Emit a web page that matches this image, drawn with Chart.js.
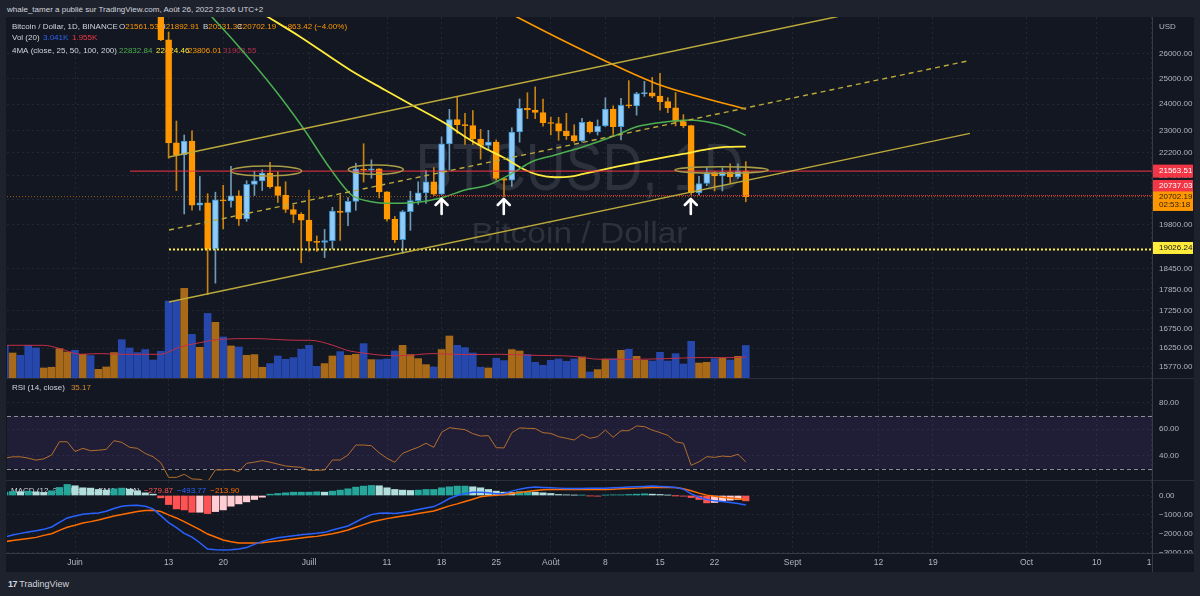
<!DOCTYPE html>
<html lang="fr">
<head>
<meta charset="utf-8">
<title>BTCUSD 1D</title>
<script src="https://cdn.jsdelivr.net/npm/chart.js@4.4.1/dist/chart.umd.min.js"></script>
<style>
  html, body { margin:0; padding:0; width:1200px; height:596px; overflow:hidden; background:#1e222d; }
  body { position:relative; font-family:'Liberation Sans', Arial, sans-serif; }
  #frame { position:absolute; left:6px; top:17px; width:1188px; height:555px; background:#131722; }
  canvas { position:absolute; left:0; }
  .sep { position:absolute; background:#2a2e39; }
  #hdr { position:absolute; left:7px; top:4px; font-size:8px; line-height:11px; color:#d1d4dc; white-space:nowrap; }
  #foot { position:absolute; left:8px; top:578px; font-size:9px; line-height:12px; color:#d1d4dc; white-space:nowrap; }
</style>
</head>
<body>
<div id="frame"></div>
<div id="hdr">whale_tamer a publié sur TradingView.com, Août 26, 2022 23:06 UTC+2</div>
<canvas id="cPrice" width="1200" height="361" style="top:17px"></canvas>
<canvas id="cRsi" width="1200" height="101" style="top:379px"></canvas>
<canvas id="cMacd" width="1200" height="91" style="top:481px"></canvas>
<div class="sep" style="left:6px;top:378px;width:1188px;height:1px"></div>
<div class="sep" style="left:6px;top:480px;width:1188px;height:1px"></div>
<div class="sep" style="left:6px;top:553px;width:1188px;height:1px;background:#363a45"></div>
<div class="sep" style="left:1152px;top:17px;width:1px;height:555px;background:#363a45"></div>
<div id="foot"><b style="letter-spacing:-0.5px">17</b> TradingView</div>
<script>
// ---------------- DATA ----------------
const dates = [
 '2022-05-23','2022-05-24','2022-05-25','2022-05-26','2022-05-27','2022-05-28','2022-05-29','2022-05-30','2022-05-31',
 '2022-06-01','2022-06-02','2022-06-03','2022-06-04','2022-06-05','2022-06-06','2022-06-07','2022-06-08','2022-06-09','2022-06-10',
 '2022-06-11','2022-06-12','2022-06-13','2022-06-14','2022-06-15','2022-06-16','2022-06-17','2022-06-18','2022-06-19','2022-06-20',
 '2022-06-21','2022-06-22','2022-06-23','2022-06-24','2022-06-25','2022-06-26','2022-06-27','2022-06-28','2022-06-29','2022-06-30',
 '2022-07-01','2022-07-02','2022-07-03','2022-07-04','2022-07-05','2022-07-06','2022-07-07','2022-07-08','2022-07-09','2022-07-10',
 '2022-07-11','2022-07-12','2022-07-13','2022-07-14','2022-07-15','2022-07-16','2022-07-17','2022-07-18','2022-07-19','2022-07-20',
 '2022-07-21','2022-07-22','2022-07-23','2022-07-24','2022-07-25','2022-07-26','2022-07-27','2022-07-28','2022-07-29','2022-07-30','2022-07-31',
 '2022-08-01','2022-08-02','2022-08-03','2022-08-04','2022-08-05','2022-08-06','2022-08-07','2022-08-08','2022-08-09','2022-08-10',
 '2022-08-11','2022-08-12','2022-08-13','2022-08-14','2022-08-15','2022-08-16','2022-08-17','2022-08-18','2022-08-19','2022-08-20',
 '2022-08-21','2022-08-22','2022-08-23','2022-08-24','2022-08-25','2022-08-26'
];
const open = [
 30290,29101,29655,29542,29201,28629,29031,29469,31734,
 31801,29799,30468,29705,29832,29907,31371,31125,30204,30110,
 29091,28424,26600,22560,22130,22627,20420,20500,19050,20600,
 20560,20730,19980,21111,21230,21492,21038,20742,20281,20123,
 19942,19279,19243,19297,20231,20190,20548,21637,21600,21640,
 20861,19971,19329,20212,20570,20825,21198,20785,22525,23410,
 23223,23190,22700,22470,22590,21311,21251,22953,23843,23774,23680,
 23300,23268,22988,22819,22626,23313,22954,23175,23810,23149,
 23954,23934,24403,24441,24305,24094,23854,23342,23191,20834,
 21140,21516,21400,21528,21368,21561.53
];
const high = [
 30670,29833,30223,29865,29397,29250,29530,32222,32399,
 31982,30690,30675,29956,30169,31765,31557,31329,30700,30383,
 29440,28544,26930,23360,22845,23000,21380,20800,20850,21080,
 21730,20900,21233,21560,21614,21870,21540,21200,20432,20179,
 20918,19443,19647,20354,20750,20675,21838,22527,21955,21650,
 20868,20059,20250,20880,21200,21589,21684,22777,23800,24280,
 23650,23757,23050,23014,22666,21350,23112,24199,24442,24668,24194,
 23510,23500,23648,23222,23464,23354,23400,24245,23933,24226,
 24918,24456,24888,25047,25211,24247,24446,23600,23202,21382,
 21692,21560,21684,21819,21819,21892.91
];
const low = [
 28866,28669,29294,28019,28282,28450,28815,29299,31200,
 29301,29594,29282,29485,29519,29882,29219,29843,29944,28850,
 28100,26560,22010,20900,20138,20260,20260,17700,18030,19660,
 20360,19770,19900,20740,20907,20980,20510,20183,19855,18626,
 18975,18969,18781,19039,19305,19761,20257,21189,21320,20660,
 19908,19240,18910,19617,20450,20478,20740,20763,21600,22906,
 22500,22500,21980,22300,21250,20706,21042,22582,23450,23450,23170,
 22850,22655,22681,22580,22586,22910,22844,23155,22865,22664,
 23853,23580,24298,24249,23773,23671,23180,23108,20761,20761,
 21069,20890,20890,21152,21310,20531.33
];
const close = [
 29101,29655,29542,29201,28629,29031,29469,31734,31801,
 29799,30467,29705,29832,29906,31371,31125,30204,30110,29091,
 28424,26600,22560,22130,22627,20420,20500,19050,20600,20560,
 20730,19980,21111,21230,21492,21038,20742,20281,20123,19942,
 19279,19243,19297,20231,20190,20548,21637,21600,21640,20861,
 19971,19329,20212,20570,20825,21198,20785,22525,23410,23223,
 23190,22700,22470,22590,21311,21251,22953,23843,23774,23680,23300,
 23268,22988,22819,22626,23313,22954,23175,23810,23149,23954,
 23934,24403,24441,24305,24094,23854,23342,23191,20834,21140,
 21516,21400,21528,21368,21565.61,20702.19
];
const volume = [
 3060,2340,2125,3060,2810,936,1000,2750,2430,
 2590,2220,2100,814,1030,2380,3590,2810,2380,2660,
 1685,2500,7200,7200,8400,4090,2870,6050,5210,3840,
 3000,2900,2125,2190,1000,1350,2060,1750,1910,2690,
 3060,1095,1350,2060,2470,2125,2220,3220,1720,1720,
 1780,2530,3060,2190,1815,1250,1030,2660,3930,3060,
 2845,2340,1000,936,1845,1630,2660,2530,2190,1470,1190,
 1660,1780,1560,1780,1970,560,786,1780,1815,2590,
 2690,2030,1660,1590,2405,1590,2280,1310,3435,1400,
 1470,1815,1845,1685,2030,3041
];
const rsi = [
 38,39,39,38,36.5,37.5,40.4,50.4,50.4,
 43,45.4,43.6,44,44.6,51.2,49.9,46.2,45.4,41.6,
 39.1,34.6,23.5,23.5,25.8,22.3,22,20.2,29.1,29.1,
 29.5,27.8,34.1,35,36.1,35,33.5,32.1,31.5,31.1,
 28.8,28.8,29.1,36.6,36.6,40.4,47.9,47.9,47.4,42,
 37.9,34.9,41.6,44,46.2,49.2,46.2,57.5,61,60.2,
 59.5,56.5,54.7,55,45.9,45.7,57.2,60.8,60.5,60.3,57.2,
 56.7,54.2,53,51.7,56,53,54.2,59.2,53.7,58.7,
 58.7,62.3,61.8,59.2,57.3,55.2,50.4,49.2,32.6,35.3,
 39.1,38.6,39.6,39.1,40.9,35.17
];
const macd = [
 -2175,-2070,-1982,-1912,-1842,-1772,-1649,-1403,-1175,
 -1070,-982,-947,-912,-824,-684,-561,-526,-509,-561,
 -702,-1052,-1421,-1684,-1982,-2175,-2473,-2806,-2841,-2859,
 -2841,-2806,-2718,-2560,-2403,-2298,-2210,-2157,-2105,-2052,
 -2017,-1982,-1929,-1807,-1701,-1596,-1386,-1175,-1000,-930,
 -912,-947,-895,-824,-737,-649,-579,-386,-158,0,
 105,175,175,140,90,110,228,333,403,439,421,
 403,386,368,368,368,386,386,386,403,421,
 439,456,474,491,474,456,421,333,88,-88,
 -210,-281,-316,-368,-421,-493.77
];
const signal = [
 -2421,-2350,-2298,-2245,-2192,-2087,-2000,-1824,-1666,
 -1561,-1438,-1368,-1280,-1175,-1070,-1000,-912,-842,-789,
 -772,-842,-1017,-1175,-1368,-1579,-1789,-2017,-2175,-2333,
 -2421,-2491,-2491,-2491,-2473,-2421,-2385,-2333,-2280,-2228,
 -2175,-2140,-2070,-2000,-1912,-1807,-1666,-1526,-1386,-1298,
 -1210,-1140,-1070,-1017,-947,-877,-807,-684,-544,-438,
 -316,-193,-70,-18,18,53,105,158,210,263,298,
 316,316,316,316,316,316,316,316,333,351,
 368,386,403,421,421,421,421,351,246,123,
 20,-40,-90,-130,-170,-213.90
];
const hist = [
 175,210,193,228,193,158,246,421,579,
 509,403,386,316,281,351,386,333,246,140,
 70,-123,-474,-702,-754,-877,-877,-947,-842,-754,
 -561,-439,-333,-210,-88,70,105,140,175,175,
 175,193,175,228,281,351,439,491,526,509,
 403,316,281,263,281,316,316,403,456,491,
 491,456,403,316,228,175,158,210,210,175,140,
 105,53,35,18,18,-18,-35,18,35,35,
 53,70,88,70,53,18,-5,-35,-105,-210,
 -386,-368,-298,-246,-210,-279.87
];
// moving averages (x = days since 1 June 2022)
const ma25X = [15.5,17.56,20.26,25.64,29.27,32.69,35.47,38.04,40.6,44.45,47.44,50.0,52.99,56.41,58.55,61.54,65.17,69.45,72.01,75.86,78.85,80.99,83.55,86];
const ma25Y = [28400,27583,26588,24547,23091,21661,20757,20536,20483,20536,20701,20923,21090,21544,21890,22126,22421,22844,23149,23335,23398,23335,23149,22832.84];
const ma50X = [23.0,24.74,28.85,35.26,39.74,43.59,47.44,50.0,52.56,55.13,57.27,59.4,61.54,63.46,65.17,69.45,73.72,77.99,80.99,83.55,86];
const ma50Y = [27950,27583,26729,25344,24547,23901,23276,22783,22364,22010,21661,21433,21354,21374,21466,21716,21949,22162,22328,22414,22424.46];
const ma100X = [54.49,56.67,62.18,67.73,75.0,79.71,86];
const ma100Y = [27983,27583,26631,25752,24744,24313,23806.01];
const ma200Last = 31903.55;
const volMaX = [-8.76,-4.06,-1.92,0.64,3.2,5.77,10.9,13.46,16.03,18.59,22.82,28.85,30.13,33.08,34.87,36.92,39.49,41.67,45.9,50.26,54.49,58.72,63.85,67.31,71.54,75.9,80.13,84.36,86];
const volMaY = [3060,3060,2750,2220,2285,2220,2220,2900,3310,3620,3690,3530,3530,3060,2590,2340,2125,2080,2285,2190,2220,2125,2030,1750,1750,1815,1910,1910,1955];
// user drawings (x = days since 1 June 2022, y = price)
const channelUpperX = [12.05, 97.8],  channelUpperY = [22055, 27605];
const channelLowerX = [12.05, 114.74], channelLowerY = [17495, 22903];
const channelMidX   = [12.05, 114.74], channelMidY   = [19628, 25731];
const levelRed = 21563.51, levelRedStart = 7.05;
const levelRed2 = 20737.03, levelRed2Start = 45.9;
const levelYellow = 19026.24, levelYellowStart = 12.05;
const ellipses = [[19.99,29.06,21400,21741],[35.04,42.09,21456,21776],[76.92,88.88,21490,21716]];
const arrowDays = [47, 54.97, 78.95], arrowTip = 20625, arrowTail = 20138;
const countdown = '02:53:18';
// axes
const priceTicks = [26000,25000,24000,23000,22200,21400,20600,19800,18450,17850,17250,16750,16250,15770];
const rsiTicks = [80,60,40];
const macdTicks = [0,-1000,-2000,-3000];
const timeTickDates = ['2022-06-01','2022-06-13','2022-06-20','2022-07-01','2022-07-11','2022-07-18','2022-07-25','2022-08-01','2022-08-08','2022-08-15','2022-08-22','2022-09-01','2022-09-12','2022-09-19','2022-10-01','2022-10-10','2022-10-17'];
const timeTickLabels = ['Juin','13','20','Juill','11','18','25','Août','8','15','22','Sept','12','19','Oct','10','17'];

// ---------------- HELPERS ----------------
const FONT = "'Liberation Sans', Arial, sans-serif";
const D0 = Date.UTC(2022,5,1);
const dayOf = s => { const p = s.split('-').map(Number); return Math.round((Date.UTC(p[0],p[1]-1,p[2]) - D0) / 864e5); };
const xs = dates.map(dayOf);
const tickDays = timeTickDates.map(dayOf);
const xMin = -8.72, xMax = 138.08;
const n = close.length;
const isBull = k => close[k] >= open[k];
const GRID = '#232733';
const AXT = '#b2b5be';
const TXT = '#d1d4dc';
const TREND = '#bcaa3a';
const minus = s => s.replace('-', '\u2212');

Chart.defaults.font.family = FONT;
Chart.defaults.animation = false;

const noPad = s => { s.paddingTop = 0; s.paddingBottom = 0; s.paddingLeft = 0; s.paddingRight = 0; };
function xAxis(showLabels) {
  return {
    type:'linear', min:xMin, max:xMax, offset:false,
    grid:{ color:GRID, drawTicks:false, offset:false },
    border:{ display:false, dash:[2,3] },
    ticks:{ display:showLabels, autoSkip:false, maxRotation:0, color:AXT, font:{size:8.5}, padding:5,
            callback:(v,i)=> timeTickLabels[i] },
    afterBuildTicks: s => { s.ticks = tickDays.map(v => ({value:v})); },
    afterFit: s => { s.height = showLabels ? 19 : 0; noPad(s); }
  };
}
function yAxis(type, min, max, ticks, fmt) {
  return { type, position:'right', min, max,
    grid:{ color:GRID, drawTicks:false }, border:{ display:false, dash:[2,3] },
    ticks:{ autoSkip:false, color:AXT, font:{size:8}, padding:7, callback:v => fmt(Number(v)) },
    afterBuildTicks: s => { s.ticks = ticks.map(v => ({value:v})); },
    afterFit: s => { s.width = 48; noPad(s); } };
}
function lineDs(xArr, yArr, color, width, extra) {
  return Object.assign({ type:'line', data:xArr.map((x,k)=>({x, y:yArr[k]})), borderColor:color, borderWidth:width,
    pointRadius:0, fill:false, tension:0 }, extra || {});
}
function txt(ctx, s, x, y, color, size, align) {
  ctx.font = `${size||8}px ${FONT}`; ctx.fillStyle = color; ctx.textAlign = align || 'left'; ctx.textBaseline = 'middle';
  ctx.fillText(s, x, y); return x + ctx.measureText(s).width;
}
function stretched(ctx, s, cx, base, size, width, color) {
  ctx.font = `${size}px ${FONT}`;
  const w = ctx.measureText(s).width;
  ctx.save(); ctx.translate(cx, base); ctx.scale(width / w, 1);
  ctx.fillStyle = color; ctx.textAlign = 'center'; ctx.textBaseline = 'alphabetic'; ctx.fillText(s, 0, 0); ctx.restore();
}
function tag(ctx, y0, h, bg, lines) {
  ctx.fillStyle = bg; ctx.fillRect(1153, y0, 40, h);
  lines.forEach(([s, yy, c]) => txt(ctx, s, 1159, yy, c, 8));
}
const baseOptions = () => ({
  responsive:false, devicePixelRatio:1, animation:false, events:[],
  layout:{ padding:{ left:7, right:0, top:0, bottom:0 }, autoPadding:false },
  plugins:{ legend:{display:false}, tooltip:{enabled:false} }
});

// ---------------- PRICE PANE ----------------
const pricePlugin = {
  id:'priceDecor',
  beforeDatasetsDraw(chart) {
    const ctx = chart.ctx, a = chart.chartArea, cx = (a.left + a.right) / 2;
    ctx.save();
    stretched(ctx, 'BTCUSD, 1D', cx, 173, 66, 328, '#2d313c');
    stretched(ctx, 'Bitcoin / Dollar', cx, 226, 30, 216, '#2d313c');
    const L = n - 1, ORG = '#ff9800';
    txt(ctx, 'Bitcoin / Dollar, 1D, BINANCE', 12, 9.5, TXT);
    let x = txt(ctx, 'O', 119, 9.5, TXT); txt(ctx, open[L].toFixed(2), x, 9.5, ORG);
    x = txt(ctx, 'H', 160, 9.5, TXT); txt(ctx, high[L].toFixed(2), x, 9.5, ORG);
    x = txt(ctx, 'B', 203, 9.5, TXT); txt(ctx, low[L].toFixed(2), x, 9.5, ORG);
    x = txt(ctx, 'C', 237, 9.5, TXT); txt(ctx, close[L].toFixed(2), x, 9.5, ORG);
    const chg = close[L] - close[L-1], pct = chg / close[L-1] * 100;
    txt(ctx, minus(chg.toFixed(2)) + ' (' + minus(pct.toFixed(2)) + '%)', 283, 9.5, ORG);
    txt(ctx, 'Vol (20)', 12, 21, TXT);
    txt(ctx, (volume[L]/1000).toFixed(3) + 'K', 43, 21, '#2f63f5');
    txt(ctx, (volMaY[volMaY.length-1]/1000).toFixed(3) + 'K', 72, 21, '#f23645');
    txt(ctx, '4MA (close, 25, 50, 100, 200)', 12, 33.3, TXT);
    txt(ctx, ma25Y[ma25Y.length-1].toFixed(2), 119, 33.3, '#4caf50');
    txt(ctx, ma50Y[ma50Y.length-1].toFixed(2), 156, 33.3, '#ffeb3b');
    txt(ctx, ma100Y[ma100Y.length-1].toFixed(2), 188, 33.3, '#ff9800');
    txt(ctx, ma200Last.toFixed(2), 223, 33.3, '#b5304a');
    ctx.restore();
  },
  afterDatasetsDraw(chart) {
    const ctx = chart.ctx, X = chart.scales.x, Y = chart.scales.y, a = chart.chartArea;
    ctx.save();
    ctx.beginPath(); ctx.rect(a.left, a.top, a.right - a.left, a.bottom - a.top); ctx.clip();
    ctx.strokeStyle = '#aa9d47'; ctx.lineWidth = 1.5;
    ellipses.forEach(([d0, d1, p0, p1]) => {
      const x0 = X.getPixelForValue(d0), x1 = X.getPixelForValue(d1);
      const y0 = Y.getPixelForValue(p0), y1 = Y.getPixelForValue(p1);
      ctx.beginPath(); ctx.ellipse((x0+x1)/2, (y0+y1)/2, Math.abs(x1-x0)/2, Math.abs(y1-y0)/2, 0, 0, Math.PI*2); ctx.stroke();
    });
    ctx.strokeStyle = '#ffffff'; ctx.lineWidth = 2.6; ctx.lineCap = 'round'; ctx.lineJoin = 'round';
    arrowDays.forEach(d => {
      const x = X.getPixelForValue(d), yt = Y.getPixelForValue(arrowTip), yb = Y.getPixelForValue(arrowTail);
      ctx.beginPath(); ctx.moveTo(x, yb); ctx.lineTo(x, yt + 1); ctx.stroke();
      ctx.beginPath(); ctx.moveTo(x - 6, yt + 6); ctx.lineTo(x, yt); ctx.lineTo(x + 6, yt + 6); ctx.stroke();
    });
    ctx.restore();
  },
  afterDraw(chart) {
    const ctx = chart.ctx, Y = chart.scales.y;
    ctx.save();
    txt(ctx, 'USD', 1159, 10, AXT, 8);
    const yR = Y.getPixelForValue(levelRed);
    tag(ctx, yR - 6.5, 13, '#f23645', [[levelRed.toFixed(2), yR, '#ffffff']]);
    const yR2 = Y.getPixelForValue(levelRed2) - 9.6;
    tag(ctx, yR2 - 6, 12, '#f23645', [[levelRed2.toFixed(2), yR2, '#ffffff']]);
    const yL = Y.getPixelForValue(close[n-1]);
    tag(ctx, yL - 5.2, 19.5, '#ff9800', [[close[n-1].toFixed(2), yL, '#2a1c05'], [countdown, yL + 8.3, '#2a1c05']]);
    const yY = Y.getPixelForValue(levelYellow) - 1.5;
    tag(ctx, yY - 6, 12, '#ffeb3b', [[levelYellow.toFixed(2), yY, '#131722']]);
    ctx.restore();
  }
};

new Chart(document.getElementById('cPrice'), {
  type:'bar',
  data:{ datasets:[
    lineDs(channelUpperX, channelUpperY, TREND, 1.4, {order:1}),
    lineDs(channelLowerX, channelLowerY, TREND, 1.4, {order:1}),
    lineDs(channelMidX, channelMidY, TREND, 1.4, {order:1, borderDash:[5,4]}),
    lineDs([levelRedStart, xMax], [levelRed, levelRed], '#f23645', 1, {order:1}),
    lineDs([levelRed2Start, xMax], [levelRed2, levelRed2], '#f23645', 1, {order:1, borderDash:[1,1]}),
    lineDs([xMin, xMax], [close[n-1], close[n-1]], 'rgba(255,152,0,0.55)', 1, {order:1, borderDash:[1,2]}),
    lineDs([levelYellowStart, xMax], [levelYellow, levelYellow], '#ffeb3b', 2, {order:1, borderDash:[2,2]}),
    lineDs(ma25X, ma25Y, '#4caf50', 1.5, {order:2, cubicInterpolationMode:'monotone'}),
    lineDs(ma50X, ma50Y, '#ffeb3b', 1.8, {order:2, cubicInterpolationMode:'monotone'}),
    lineDs(ma100X, ma100Y, '#ff9800', 1.6, {order:2, cubicInterpolationMode:'monotone'}),
    { type:'bar', data:xs.map((x,k)=>({x, y:[open[k], close[k]]})), grouped:false, barThickness:6, minBarLength:1,
      backgroundColor:c => isBull(c.dataIndex) ? '#90caf9' : '#ff9800',
      borderColor:c => isBull(c.dataIndex) ? '#3b95cc' : '#ff9800', borderWidth:1, borderSkipped:false, order:4 },
    { type:'bar', data:xs.map((x,k)=>({x, y:[low[k], high[k]]})), grouped:false, barThickness:1,
      backgroundColor:c => isBull(c.dataIndex) ? '#6e9ab4' : '#c8820f', order:5 },
    lineDs(volMaX, volMaY, '#c22f48', 1, {yAxisID:'yVol', order:8, cubicInterpolationMode:'monotone'}),
    { type:'bar', yAxisID:'yVol', data:xs.map((x,k)=>({x, y:volume[k]})), grouped:false, barThickness:7,
      backgroundColor:c => isBull(c.dataIndex) ? '#a86a18' : '#2647ab', order:9 }
  ]},
  options:Object.assign(baseOptions(), {
    scales:{
      x: xAxis(false),
      y: yAxis('logarithmic', 15495, 27583, priceTicks, v => v.toFixed(2)),
      yVol: { type:'linear', display:false, min:0, max:33790 }
    }
  }),
  plugins:[pricePlugin]
});

// ---------------- RSI PANE ----------------
const rsiPlugin = {
  id:'rsiDecor',
  beforeDatasetsDraw(chart) {
    const ctx = chart.ctx, a = chart.chartArea, Y = chart.scales.y;
    const y70 = Y.getPixelForValue(70), y30 = Y.getPixelForValue(30);
    ctx.save();
    ctx.fillStyle = 'rgba(126,80,200,0.13)';
    ctx.fillRect(a.left, y70, a.right - a.left, y30 - y70);
    ctx.strokeStyle = '#8a8d96'; ctx.lineWidth = 1; ctx.setLineDash([4,3]);
    [y70, y30].forEach(y => { ctx.beginPath(); ctx.moveTo(a.left, Math.round(y)+0.5); ctx.lineTo(a.right, Math.round(y)+0.5); ctx.stroke(); });
    ctx.setLineDash([]);
    const x = txt(ctx, 'RSI (14, close)', 12, 8.5, TXT);
    txt(ctx, rsi[n-1].toFixed(2), x + 6, 8.5, '#d8892f');
    ctx.restore();
  }
};
new Chart(document.getElementById('cRsi'), {
  type:'line',
  data:{ datasets:[ lineDs(xs, rsi, '#b36f2c', 1, {}) ] },
  options:Object.assign(baseOptions(), {
    scales:{
      x: xAxis(false),
      y: yAxis('linear', 21.51, 97.74, rsiTicks, v => v.toFixed(2))
    }
  }),
  plugins:[rsiPlugin]
});

// ---------------- MACD PANE ----------------
const histColor = c => {
  const k = c.dataIndex, v = hist[k], p = k > 0 ? hist[k-1] : v;
  if (v >= 0) return v >= p ? '#26a69a' : '#b2dfdb';
  return v >= p ? '#ffcdd2' : '#ff5252';
};
const macdPlugin = {
  id:'macdDecor',
  beforeDatasetsDraw(chart) {
    const ctx = chart.ctx;
    ctx.save();
    let x = txt(ctx, 'MACD (12, 26, close, 9, EMA, EMA)', 11, 10, TXT);
    x = txt(ctx, minus(hist[n-1].toFixed(2)), x + 4, 10, '#ff5252');
    x = txt(ctx, minus(macd[n-1].toFixed(2)), x + 4, 10, '#2962ff');
    txt(ctx, minus(signal[n-1].toFixed(2)), x + 4, 10, '#ff6d00');
    ctx.restore();
  },
  afterDraw(chart) {
    const ctx = chart.ctx, a = chart.chartArea;
    ctx.save(); ctx.fillStyle = '#131722'; ctx.fillRect(a.right + 1, a.bottom + 1, 41, 20); ctx.restore();
  }
};
new Chart(document.getElementById('cMacd'), {
  type:'bar',
  data:{ datasets:[
    lineDs(xs, macd, '#2962ff', 1.5, {order:1}),
    lineDs(xs, signal, '#ff6d00', 1.5, {order:2}),
    { type:'bar', data:xs.map((x,k)=>({x, y:hist[k]})), grouped:false, barThickness:6.5, backgroundColor:histColor, order:3 }
  ]},
  options:Object.assign(baseOptions(), {
    scales:{
      x: xAxis(true),
      y: yAxis('linear', -3010, 759, macdTicks, v => minus(v.toFixed(2)))
    }
  }),
  plugins:[macdPlugin]
});
</script>
</body>
</html>
